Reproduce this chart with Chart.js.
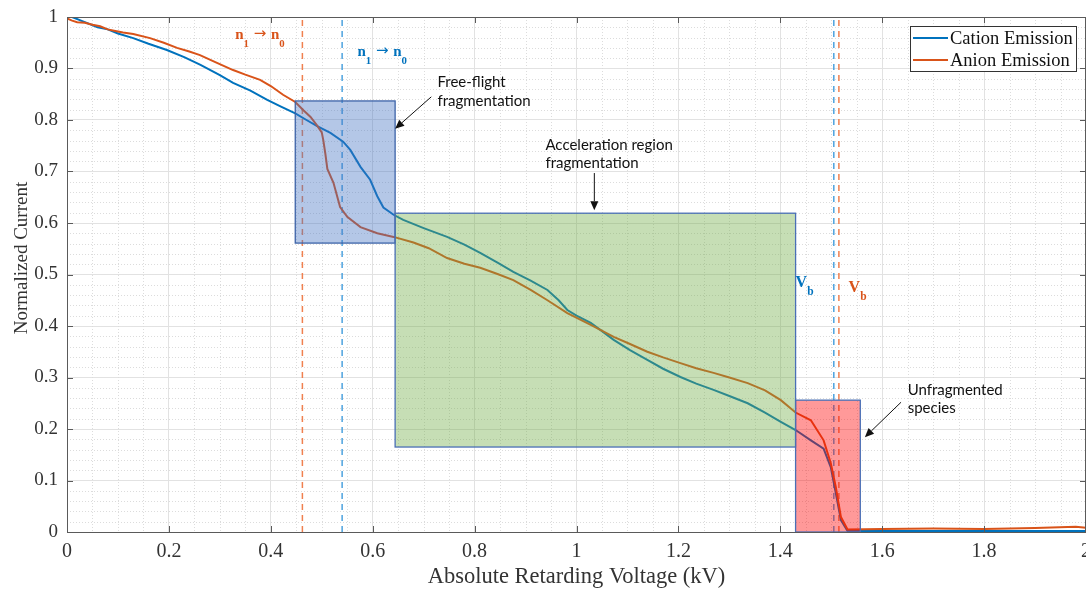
<!DOCTYPE html>
<html>
<head>
<meta charset="utf-8">
<title>Retarding potential curves</title>
<script src="https://cdn.jsdelivr.net/npm/chart.js@4.4.1/dist/chart.umd.min.js"></script>
<style>
  html, body { margin: 0; padding: 0; background: #fff; }
  #wrap { width: 1086px; height: 591px; }
</style>
</head>
<body>
<div id="wrap"><canvas id="rpa" width="1086" height="591"></canvas></div>
<script>
// ---- data ----
const cationV = [0.010, 0.030, 0.060, 0.080, 0.100, 0.130, 0.160, 0.196, 0.230, 0.262, 0.300, 0.326, 0.360, 0.393,
  0.420, 0.448, 0.470, 0.491, 0.517, 0.542, 0.556, 0.576, 0.595, 0.609, 0.621, 0.641, 0.660, 0.700, 0.746, 0.780,
  0.811, 0.845, 0.876, 0.910, 0.943, 0.965, 0.982, 1.000, 1.028, 1.050, 1.073, 1.105, 1.139, 1.170, 1.204, 1.235,
  1.269, 1.300, 1.336, 1.370, 1.401, 1.430, 1.460, 1.485, 1.499, 1.509, 1.519, 1.532, 1.600, 1.800, 2.000];
const cationI = [1.000, 0.992, 0.980, 0.976, 0.968, 0.959, 0.948, 0.936, 0.922, 0.907, 0.887, 0.872, 0.857, 0.839,
  0.826, 0.813, 0.800, 0.788, 0.775, 0.758, 0.742, 0.709, 0.684, 0.652, 0.630, 0.616, 0.606, 0.590, 0.573, 0.558,
  0.542, 0.523, 0.505, 0.488, 0.470, 0.450, 0.431, 0.420, 0.406, 0.390, 0.373, 0.353, 0.334, 0.317, 0.301, 0.288,
  0.276, 0.264, 0.250, 0.232, 0.214, 0.198, 0.178, 0.162, 0.126, 0.075, 0.023, 0.002, 0.002, 0.002, 0.002];

const anionV = [0.000, 0.010, 0.020, 0.035, 0.050, 0.065, 0.080, 0.095, 0.110, 0.130, 0.163, 0.190, 0.216, 0.240,
  0.261, 0.290, 0.326, 0.350, 0.379, 0.400, 0.424, 0.448, 0.464, 0.478, 0.491, 0.500, 0.503, 0.507, 0.511, 0.523,
  0.536, 0.550, 0.576, 0.609, 0.641, 0.680, 0.710, 0.746, 0.780, 0.811, 0.845, 0.876, 0.910, 0.943, 0.982, 1.028,
  1.073, 1.105, 1.139, 1.170, 1.204, 1.235, 1.269, 1.300, 1.336, 1.370, 1.401, 1.430, 1.460, 1.485, 1.499, 1.509,
  1.519, 1.532, 1.600, 1.700, 1.800, 1.900, 1.980, 2.000];
const anionI = [0.997, 0.993, 0.990, 0.989, 0.985, 0.982, 0.976, 0.973, 0.970, 0.967, 0.959, 0.950, 0.940, 0.933,
  0.926, 0.913, 0.897, 0.888, 0.878, 0.866, 0.849, 0.835, 0.819, 0.806, 0.789, 0.776, 0.761, 0.735, 0.705, 0.678,
  0.631, 0.612, 0.592, 0.580, 0.573, 0.562, 0.551, 0.532, 0.521, 0.513, 0.501, 0.489, 0.470, 0.450, 0.425, 0.402,
  0.379, 0.365, 0.350, 0.339, 0.328, 0.318, 0.309, 0.300, 0.289, 0.275, 0.256, 0.232, 0.217, 0.178, 0.134, 0.087,
  0.029, 0.005, 0.006, 0.007, 0.006, 0.008, 0.010, 0.008];

// transition (n1 -> n0) and beam (Vb) voltages, kV
const cationMarkers = [0.540, 1.505];
const anionMarkers = [0.462, 1.515];

// fragmentation regions: voltage span and current span
const regionNames = [['Free-flight', 'fragmentation'], ['Acceleration region', 'fragmentation'], ['Unfragmented', 'species']];
const regionV0 = [0.448, 0.644, 1.430];
const regionV1 = [0.644, 1.430, 1.557];
const regionI0 = [0.561, 0.165, 0.000];
const regionI1 = [0.837, 0.619, 0.256];

// ---- styling ----
const CATION = '#0072BD';
const ANION = '#D95319';
const CATION_DASH = '#4DA3DF';
const ANION_DASH = '#F0804F';
const regionFill = ['rgba(68,114,196,0.4)', 'rgba(112,173,71,0.4)', 'rgba(255,0,0,0.4)'];
const regionEdge = ['#3d63a8', '#4a6fb5', '#4a6fb5'];
const SERIF = '"Liberation Serif", "Times New Roman", serif';
const SANS = 'Lato, "Open Sans", sans-serif';

// annotation placement in data units (kV, current)
const regionText = [
  { v: 0.727, i: [0.864, 0.827], from: [0.715, 0.845], to: [0.644, 0.783] },
  { v: 0.939, i: [0.742, 0.707], from: [1.035, 0.697], to: [1.035, 0.625] },
  { v: 1.650, i: [0.266, 0.231], from: [1.637, 0.252], to: [1.566, 0.184] }
];

const toPoints = (xs, ys) => xs.map((v, k) => ({ x: v, y: ys[k] }));
const vline = v => [{ x: v, y: 0 }, { x: v, y: 1 }];
const tickFmt = v => String(+Number(v).toFixed(2));

function arrow(ctx, x0, y0, x1, y1) {
  const a = Math.atan2(y1 - y0, x1 - x0), h = 9, w = 4;
  ctx.beginPath();
  ctx.moveTo(x0, y0);
  ctx.lineTo(x1 - h * Math.cos(a), y1 - h * Math.sin(a));
  ctx.stroke();
  ctx.beginPath();
  ctx.moveTo(x1, y1);
  ctx.lineTo(x1 - h * Math.cos(a) + w * Math.sin(a), y1 - h * Math.sin(a) - w * Math.cos(a));
  ctx.lineTo(x1 - h * Math.cos(a) - w * Math.sin(a), y1 - h * Math.sin(a) + w * Math.cos(a));
  ctx.closePath();
  ctx.fill();
}

// text with subscripts: parts = [[text, kind], ...]  kind: 0 normal, 1 subscript, 2 arrow
function subText(ctx, parts, x, y, color, size) {
  ctx.fillStyle = color;
  ctx.textAlign = 'left';
  ctx.textBaseline = 'alphabetic';
  let cx = x;
  parts.forEach(([t, kind]) => {
    if (kind === 1) ctx.font = `bold ${size * 0.72}px ${SERIF}`;
    else if (kind === 2) ctx.font = `${size}px "DejaVu Sans", sans-serif`;
    else ctx.font = `bold ${size}px ${SERIF}`;
    ctx.fillText(t, cx, kind === 1 ? y + size * 0.5 : (kind === 2 ? y - 1 : y));
    cx += ctx.measureText(t).width;
  });
}

const minorGrid = {
  id: 'minorGrid',
  beforeDatasetsDraw(chart) {
    const { ctx, chartArea: a, scales: { x, y } } = chart;
    ctx.save();
    ctx.strokeStyle = '#dcdcdc';
    ctx.lineWidth = 1;
    ctx.setLineDash([1, 2]);
    for (let k = 1; k < 40; k++) {
      if (k % 4 === 0) continue;
      const px = Math.round(x.getPixelForValue(k * 0.05)) + 0.5;
      ctx.beginPath(); ctx.moveTo(px, a.top); ctx.lineTo(px, a.bottom); ctx.stroke();
    }
    for (let k = 1; k < 50; k++) {
      if (k % 5 === 0) continue;
      const py = Math.round(y.getPixelForValue(k * 0.02)) + 0.5;
      ctx.beginPath(); ctx.moveTo(a.left, py); ctx.lineTo(a.right, py); ctx.stroke();
    }
    ctx.restore();
  }
};

const regions = {
  id: 'regions',
  afterDatasetsDraw(chart) {
    const { ctx, scales: { x, y } } = chart;
    ctx.save();
    regionV0.forEach((v0, k) => {
      const l = x.getPixelForValue(v0), r = x.getPixelForValue(regionV1[k]);
      const t = y.getPixelForValue(regionI1[k]), b = y.getPixelForValue(regionI0[k]);
      ctx.fillStyle = regionFill[k];
      ctx.fillRect(l, t, r - l, b - t);
      ctx.strokeStyle = regionEdge[k];
      ctx.lineWidth = 1.3;
      ctx.strokeRect(l, t, r - l, b - t);
    });
    ctx.restore();
  }
};

const decorations = {
  id: 'decorations',
  afterDraw(chart) {
    const { ctx, chartArea: a, scales: { x, y } } = chart;
    ctx.save();

    // axes box and inward ticks
    ctx.strokeStyle = '#5a5a5a';
    ctx.lineWidth = 1;
    ctx.strokeRect(a.left + 0.5, a.top + 0.5, a.right - a.left - 1, a.bottom - a.top);
    ctx.beginPath();
    for (let k = 0; k <= 10; k++) {
      const px = Math.round(x.getPixelForValue(k * 0.2)) + 0.5;
      ctx.moveTo(px, a.bottom); ctx.lineTo(px, a.bottom - 6);
      ctx.moveTo(px, a.top); ctx.lineTo(px, a.top + 6);
      const py = Math.round(y.getPixelForValue(k * 0.1)) + 0.5;
      ctx.moveTo(a.left, py); ctx.lineTo(a.left + 6, py);
      ctx.moveTo(a.right, py); ctx.lineTo(a.right - 6, py);
    }
    ctx.stroke();

    // y-axis title
    ctx.save();
    ctx.translate(22, 258);
    ctx.rotate(-Math.PI / 2);
    ctx.font = `19px ${SERIF}`;
    ctx.fillStyle = '#333';
    ctx.textAlign = 'center';
    ctx.textBaseline = 'middle';
    ctx.fillText('Normalized Current', 0, 0);
    ctx.restore();

    // region callouts
    ctx.fillStyle = '#111';
    ctx.strokeStyle = '#111';
    ctx.lineWidth = 1;
    ctx.font = `15px ${SANS}`;
    ctx.textAlign = 'left';
    ctx.textBaseline = 'alphabetic';
    regionText.forEach((r, k) => {
      regionNames[k].forEach((line, j) => ctx.fillText(line, x.getPixelForValue(r.v), y.getPixelForValue(r.i[j])));
      arrow(ctx, x.getPixelForValue(r.from[0]), y.getPixelForValue(r.from[1]),
        x.getPixelForValue(r.to[0]), y.getPixelForValue(r.to[1]));
    });

    // transition and beam labels
    const nn = [['n', 0], ['1', 1], [' \u2192 ', 2], ['n', 0], ['0', 1]];
    subText(ctx, nn, x.getPixelForValue(0.330), y.getPixelForValue(0.957), ANION, 15);
    subText(ctx, nn, x.getPixelForValue(0.570), y.getPixelForValue(0.924), CATION, 15);
    const vb = [['V', 0], ['b', 1]];
    subText(ctx, vb, x.getPixelForValue(1.430), y.getPixelForValue(0.476), CATION, 16);
    subText(ctx, vb, x.getPixelForValue(1.534), y.getPixelForValue(0.466), ANION, 16);

    // legend
    const lx = a.right - 176, ly = a.top + 9;
    ctx.fillStyle = '#fff';
    ctx.fillRect(lx, ly, 166, 45);
    ctx.strokeStyle = '#333';
    ctx.lineWidth = 1;
    ctx.strokeRect(lx + 0.5, ly + 0.5, 166, 45);
    [['Cation Emission', CATION], ['Anion Emission', ANION]].forEach(([name, col], k) => {
      const yy = ly + 12 + k * 22;
      ctx.strokeStyle = col;
      ctx.lineWidth = 2;
      ctx.beginPath(); ctx.moveTo(lx + 3, yy); ctx.lineTo(lx + 38, yy); ctx.stroke();
      ctx.fillStyle = '#111';
      ctx.font = `18.5px ${SERIF}`;
      ctx.textBaseline = 'middle';
      ctx.fillText(name, lx + 40, yy + 1);
    });
    ctx.restore();
  }
};

const lineSet = (label, data, color, order) => ({
  label, data, borderColor: color, borderWidth: 2, pointRadius: 0, showLine: true, order
});
const dashSet = (v, color) => ({
  label: '', data: vline(v), borderColor: color, borderWidth: 1.5, borderDash: [6, 5],
  pointRadius: 0, showLine: true, order: 2
});

new Chart(document.getElementById('rpa'), {
  type: 'scatter',
  data: {
    datasets: [
      lineSet('Anion Emission', toPoints(anionV, anionI), ANION, 0),
      lineSet('Cation Emission', toPoints(cationV, cationI), CATION, 1),
      ...anionMarkers.map(v => dashSet(v, ANION_DASH)),
      ...cationMarkers.map(v => dashSet(v, CATION_DASH))
    ]
  },
  options: {
    responsive: false,
    animation: false,
    layout: { padding: { top: 17, right: 0, left: 0, bottom: 0 } },
    plugins: { legend: { display: false }, tooltip: { enabled: false } },
    scales: {
      x: {
        type: 'linear', min: 0, max: 2,
        ticks: { stepSize: 0.2, font: { family: SERIF, size: 20 }, color: '#333', padding: 8, maxRotation: 0, callback: tickFmt },
        grid: { color: '#e2e2e2', drawTicks: false },
        border: { color: '#5a5a5a' },
        title: { display: true, text: 'Absolute Retarding Voltage (kV)', font: { family: SERIF, size: 22.5 }, color: '#333', padding: { top: 0, bottom: 0 } },
        afterFit: s => { s.height = 59; s.paddingLeft = 0; s.paddingRight = 0; }
      },
      y: {
        type: 'linear', min: 0, max: 1,
        ticks: { stepSize: 0.1, font: { family: SERIF, size: 19 }, color: '#333', padding: 9, callback: tickFmt },
        grid: { color: '#e2e2e2', drawTicks: false },
        border: { color: '#5a5a5a' },
        afterFit: s => { s.width = 67; s.paddingTop = 0; s.paddingBottom = 0; }
      }
    }
  },
  plugins: [minorGrid, regions, decorations]
});
</script>
</body>
</html>
